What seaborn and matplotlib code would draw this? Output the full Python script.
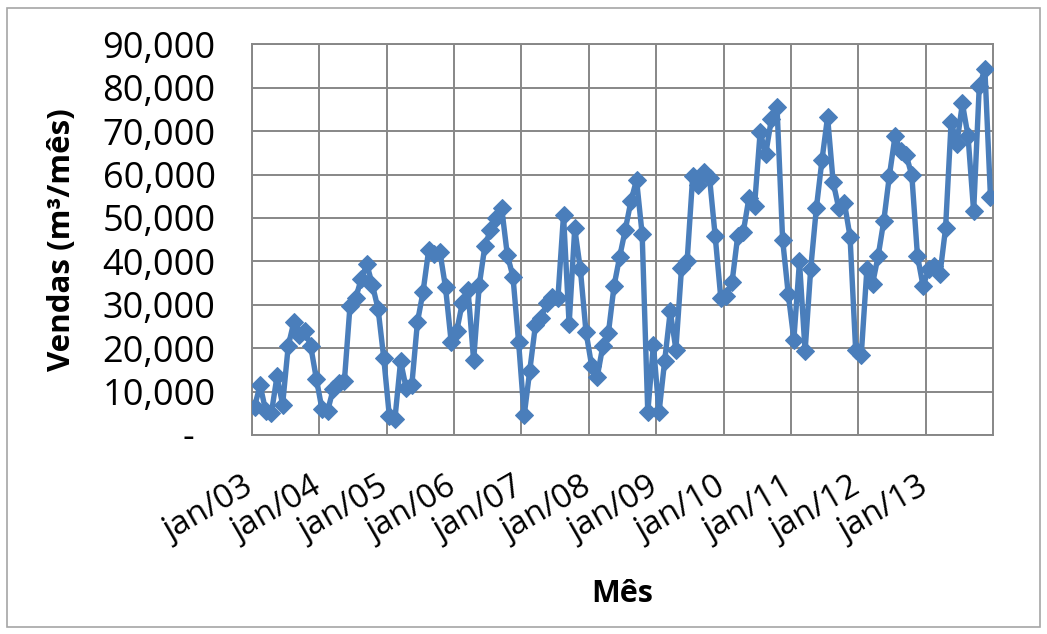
import numpy as np
import pandas as pd
import matplotlib
matplotlib.use("Agg")
import matplotlib.pyplot as plt
import seaborn as sns
from matplotlib.patches import Rectangle

# ---- data (monthly sales, jan/2003 .. dec/2013) ----
vendas = [
    6500, 11500, 5500, 5000, 13500, 7000, 20500, 26000, 23000, 24000, 20500, 13000,   # 2003
    6000, 5500, 10500, 12000, 12500, 29800, 31500, 36000, 39300, 34500, 29000, 17800,  # 2004
    4300, 3800, 17000, 10800, 11500, 26000, 33000, 42600, 41800, 42200, 34000, 21500,  # 2005
    24000, 30500, 33500, 17200, 34500, 43500, 47300, 50000, 52200, 41500, 36500, 21500,  # 2006
    4500, 14800, 25300, 27000, 30300, 31800, 31500, 50700, 25500, 47600, 38200, 23800,  # 2007
    16000, 13400, 20500, 23600, 34400, 41100, 47300, 53900, 58800, 46200, 5200, 20800,  # 2008
    5200, 17000, 28500, 19700, 38400, 40000, 59700, 57600, 60500, 59200, 45800, 31500,  # 2009
    32000, 35200, 45800, 46800, 54600, 52800, 69800, 64800, 72800, 75600, 45000, 32500,  # 2010
    22000, 40000, 19300, 38300, 52200, 63300, 73300, 58200, 52200, 53500, 45700, 19600,  # 2011
    18500, 38200, 34800, 41200, 49300, 59700, 68800, 65500, 64500, 59800, 41300, 34300,  # 2012
    38200, 38900, 37000, 47600, 72200, 67000, 76400, 68900, 51500, 80300, 84300, 54800,  # 2013
]
year_labels = ["jan/03", "jan/04", "jan/05", "jan/06", "jan/07", "jan/08",
               "jan/09", "jan/10", "jan/11", "jan/12", "jan/13"]
y_ticks = [0, 10000, 20000, 30000, 40000, 50000, 60000, 70000, 80000, 90000]
y_label = "Vendas (m³/mês)"
x_label = "Mês"

df = pd.DataFrame({"mes": np.arange(len(vendas)), "vendas": vendas})

sns.set_theme(style="white")
plt.rcParams["font.family"] = ["Open Sans", "DejaVu Sans"]
plt.rcParams["text.color"] = "black"
plt.rcParams["xtick.color"] = "black"
plt.rcParams["ytick.color"] = "black"
plt.rcParams["axes.labelcolor"] = "black"

fig = plt.figure(figsize=(10.47, 6.34), dpi=100)
ax = fig.add_axes([251.7 / 1047, 1 - 435 / 634, (993.3 - 251.7) / 1047, (435 - 44.4) / 634])

line_color = "#4A7EBB"
grid_color = "#878787"

sns.lineplot(data=df, x="mes", y="vendas", ax=ax, color=line_color,
             linewidth=3.9, marker="D", markersize=9.5,
             markeredgecolor=line_color, markerfacecolor=line_color, zorder=3)

ax.set_xlim(-0.5, len(vendas) - 0.5)
ax.set_ylim(0, 90000)

xt = [12 * k - 0.5 for k in range(len(year_labels))]
ax.set_xticks(xt)
ax.set_xticklabels(year_labels, rotation=30, ha="right", va="center",
                   rotation_mode="anchor", fontsize=24)
ax.set_yticks(y_ticks)
ax.set_yticklabels([("-\u2007" if v == 0 else f"{v:,}") for v in y_ticks], fontsize=26)

ax.tick_params(axis="x", length=0, pad=36)
ax.tick_params(axis="y", length=0, pad=26)

ax.grid(True, color=grid_color, linewidth=1.4)
ax.set_axisbelow(True)
for s in ax.spines.values():
    s.set_visible(True)
    s.set_color(grid_color)
    s.set_linewidth(1.4)

ax.set_xlabel(x_label, fontsize=22, fontweight="bold", labelpad=22)
ax.set_ylabel(y_label, fontsize=22.5, fontweight="bold", labelpad=18)

fig.patches.append(Rectangle((7 / 1047, 1 - 627 / 634), (1040 - 7) / 1047, (627 - 8) / 634,
                             transform=fig.transFigure, fill=False,
                             edgecolor="#A6A6A6", linewidth=1.2))

fig.savefig("out.png", dpi=100)
